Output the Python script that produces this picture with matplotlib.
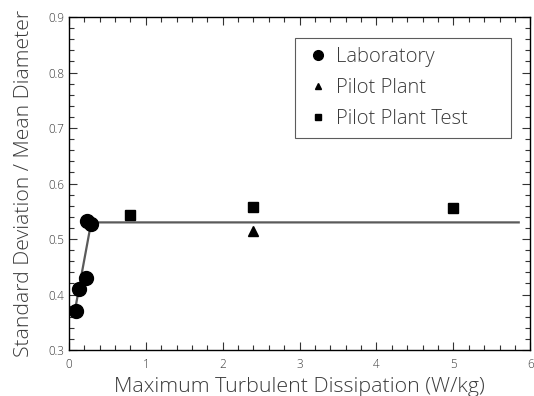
import numpy as np
import matplotlib.pyplot as plt
from matplotlib.ticker import MultipleLocator

plt.rcParams['font.family'] = ['Open Sans', 'DejaVu Sans']
plt.rcParams['font.weight'] = 'light'
plt.rcParams['axes.labelweight'] = 'light'

# data
lab_x = [0.09, 0.13, 0.22, 0.23, 0.29]
lab_y = [0.370, 0.410, 0.430, 0.532, 0.528]
pilot_x = [2.4]
pilot_y = [0.515]
test_x = [0.8, 2.4, 5.0]
test_y = [0.544, 0.557, 0.556]

# fitted trend: steep rise then plateau
fit_x = [0.07, 0.29, 5.85]
fit_y = [0.365, 0.530, 0.530]

grey = '#3a3a3a'

fig = plt.figure(figsize=(5.34, 3.96), dpi=100)
ax = fig.add_axes([0.129, 0.116, 0.864, 0.841])

ax.plot(fit_x, fit_y, color='#5a5a5a', lw=1.6, zorder=2)
ax.plot(lab_x, lab_y, 'o', color='black', ms=10, label='Laboratory', zorder=3)
ax.plot(pilot_x, pilot_y, '^', color='black', ms=7, label='Pilot Plant', zorder=3)
ax.plot(test_x, test_y, 's', color='black', ms=6.5, label='Pilot Plant Test', zorder=3)

ax.set_xlim(0, 6)
ax.set_ylim(0.3, 0.9)
ax.xaxis.set_major_locator(MultipleLocator(1))
ax.xaxis.set_minor_locator(MultipleLocator(0.2))
ax.yaxis.set_major_locator(MultipleLocator(0.1))
ax.yaxis.set_minor_locator(MultipleLocator(0.02))
ax.xaxis.set_major_formatter(lambda v, p: f'{v:.0f}')
ax.yaxis.set_major_formatter(lambda v, p: f'{v:.1f}')

ax.tick_params(which='both', direction='in', top=True, right=True,
               labelsize=8.5, labelcolor=grey, color='#333333', width=0.8)
ax.tick_params(which='major', length=6)
ax.tick_params(which='minor', length=3.5)
ax.tick_params(axis='x', which='major', pad=6)
for s in ax.spines.values():
    s.set_linewidth(1.0)

ax.set_xlabel('Maximum Turbulent Dissipation (W/kg)', fontsize=15.4, color=grey,
              labelpad=4)
ax.set_ylabel('Standard Deviation / Mean Diameter', fontsize=15.2, color=grey,
              labelpad=10)

# legend box stretched to a fixed width in the upper right
leg = ax.legend(loc='upper left', bbox_to_anchor=(0.490, 0.5, 0.469, 0.437),
                mode='expand', fontsize=14.5,
                frameon=True, fancybox=False, edgecolor='#333333',
                labelspacing=0.55, handlelength=1.4, handletextpad=0.2,
                borderpad=0.45, borderaxespad=0, markerscale=0.7)
leg.get_frame().set_linewidth(0.8)
for t in leg.get_texts():
    t.set_color(grey)

fig.savefig('out.png', dpi=100)
